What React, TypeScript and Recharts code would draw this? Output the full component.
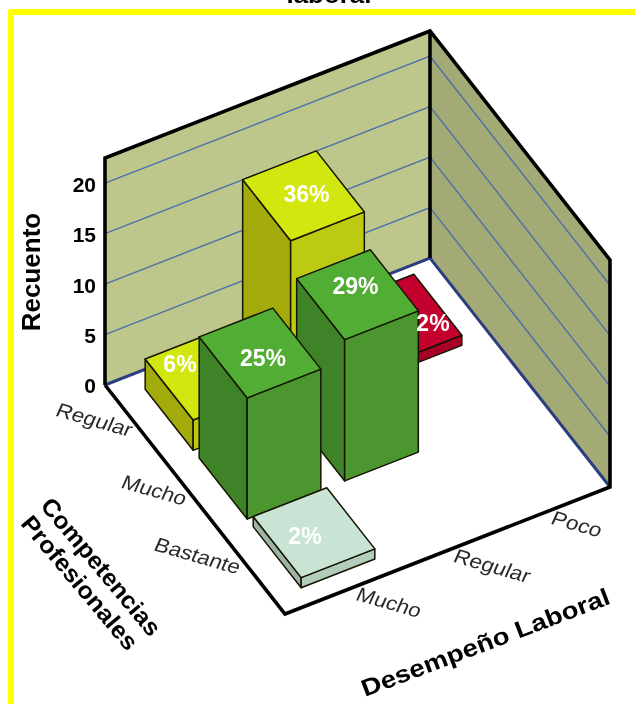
import React from 'react';
import { ScatterChart, Scatter, XAxis, YAxis, Label } from 'recharts';

// ---- data ----
const desempeno = ['Mucho', 'Regular', 'Poco'];
const competencias = ['Regular', 'Mucho', 'Bastante'];
const counts = [
  [3, 17, 1],
  [12, 14, 0],
  [1, 0, 0],
];
const percents = [
  ['6%', '36%', '2%'],
  ['25%', '29%', ''],
  ['2%', '', ''],
];
const valueTicks = [0, 5, 10, 15, 20];
const chartTitle = 'laboral';
const yTitle = 'Recuento';
const xTitle = 'Desempeño Laboral';
const zTitleLines = ['Competencias', 'Profesionales'];

// ---- projection / style ----
const W = 635;
const H = 704;
const ORIGIN_X = 105;
const ORIGIN_Y = 385;
const PX_PER_COUNT = 10.09;
const WALL_COUNT = 22.5;
const U = { x: 108.33, y: -42.33 };
const V = { x: 60, y: 76.33 };
const SLOT = 0.9;
const START = 0.26;
const START_V = 0.2;
const BAR_U = 0.68;
const BAR_V = 0.8;
const FONT = '"Liberation Sans", Arial, sans-serif';

const palette = [
  { top: '#d2e70f', left: '#a3ab0a', right: '#bccb11' },
  { top: '#52ad35', left: '#3f8328', right: '#4b962f' },
  { top: '#c9e4d4', left: '#9db5a8', right: '#b2cdbc' },
];
const redFace = { top: '#c4002e', left: '#8f0022', right: '#a80028' };

const project = (u: number, v: number, count = 0) => ({
  sx: ORIGIN_X + u * U.x + v * V.x,
  sy: count - (u * U.y + v * V.y) / PX_PER_COUNT,
});

type P = [number, number];
const poly = (pts: P[]) => pts.map((p) => p.join(',')).join(' ');
const off = (x: number, y: number, u: number, v: number, h = 0): P => [
  x + u * U.x + v * V.x,
  y + u * U.y + v * V.y - h * PX_PER_COUNT,
];

// bars back to front: Poco -> Mucho inside each row, row Regular first
const bars: any[] = [];
competencias.forEach((_, c) => {
  [2, 1, 0].forEach((d) => {
    const n = counts[c][d];
    if (!n) return;
    const u0 = START + d * SLOT;
    const v0 = START_V + c * SLOT;
    const isRed = c === 0 && d === 2;
    bars.push({ ...project(u0, v0), n, c, d, isRed });
  });
});

const labelNudge: Record<string, P> = {
  '0-0': [-26, -11],
  '0-1': [3, -2],
  '0-2': [32, 4],
  '1-0': [3, 5],
  '1-1': [-2, -9],
  '2-0': [-9, 3],
};

const barLabels: any[] = [];
competencias.forEach((_, c) => {
  desempeno.forEach((__, d) => {
    const n = counts[c][d];
    if (!n) return;
    const p = project(START + d * SLOT + BAR_U / 2, START_V + c * SLOT + BAR_V / 2, n);
    barLabels.push({ ...p, text: percents[c][d], key: `${c}-${d}` });
  });
});

const compLabels = competencias.map((text, c) => ({
  ...project(0, 0.47 + c * SLOT),
  text,
}));
const despLabels = desempeno.map((text, d) => ({
  ...project(0.67 + d * SLOT, 3),
  text,
}));

const wallAnchor = [project(0, 0)];

const Walls = (props: any) => {
  const { cx, cy } = props;
  const L = off(cx, cy, 0, 0);
  const B = off(cx, cy, 3, 0);
  const R = off(cx, cy, 3, 3);
  const F = off(cx, cy, 0, 3);
  const LT = off(cx, cy, 0, 0, WALL_COUNT);
  const BT = off(cx, cy, 3, 0, WALL_COUNT);
  const RT = off(cx, cy, 3, 3, WALL_COUNT);
  return (
    <g>
      <polygon points={poly([L, B, R, F])} fill="#ffffff" />
      <polygon points={poly([L, LT, BT, B])} fill="#bdc78c" />
      <polygon points={poly([B, BT, RT, R])} fill="#a3aa75" />
      {valueTicks.slice(1).map((t) => (
        <polyline
          key={t}
          points={poly([off(cx, cy, 0, 0, t), off(cx, cy, 3, 0, t), off(cx, cy, 3, 3, t)])}
          fill="none"
          stroke="#4f6fa8"
          strokeWidth={1.4}
        />
      ))}
      <polyline points={poly([L, B, R])} fill="none" stroke="#2b3f80" strokeWidth={3} />
      <polyline
        points={poly([L, LT, BT, RT, R, F, L])}
        fill="none"
        stroke="#000000"
        strokeWidth={3.6}
        strokeLinejoin="miter"
      />
      <line x1={B[0]} y1={B[1]} x2={BT[0]} y2={BT[1]} stroke="#000000" strokeWidth={3.6} />
    </g>
  );
};

const Bar3D = (props: any) => {
  const { cx, cy, payload } = props;
  const face = payload.isRed ? redFace : palette[payload.c];
  const h = payload.n;
  const a = off(cx, cy, 0, 0); // left
  const b = off(cx, cy, 0, BAR_V); // front
  const c = off(cx, cy, BAR_U, BAR_V); // right
  const at = off(cx, cy, 0, 0, h);
  const bt = off(cx, cy, 0, BAR_V, h);
  const ct = off(cx, cy, BAR_U, BAR_V, h);
  const dt = off(cx, cy, BAR_U, 0, h);
  const s = { stroke: '#141400', strokeWidth: 1.5, strokeLinejoin: 'round' as const };
  return (
    <g>
      <polygon points={poly([a, b, bt, at])} fill={face.left} {...s} />
      <polygon points={poly([b, c, ct, bt])} fill={face.right} {...s} />
      <polygon points={poly([at, bt, ct, dt])} fill={face.top} {...s} />
    </g>
  );
};

const BarLabel = (props: any) => {
  const { cx, cy, payload } = props;
  const [dx, dy] = labelNudge[payload.key] || [0, 0];
  return (
    <text
      x={cx + dx}
      y={cy + dy}
      dy="0.36em"
      textAnchor="middle"
      fill="#ffffff"
      fontFamily={FONT}
      fontWeight={700}
      fontSize={23}
    >
      {payload.text}
    </text>
  );
};

const textLen: Record<string, number> = { Regular: 78, Mucho: 66, Bastante: 88, Poco: 51 };

const FloorLabel = (anchor: 'start' | 'end', dx: number, dy: number) => (props: any) => {
  const { cx, cy, payload } = props;
  return (
    <text
      transform={`translate(${cx + dx},${cy + dy}) rotate(16) skewX(-8)`}
      textAnchor={anchor}
      fill="#2a2a2a"
      fontFamily={FONT}
      fontSize={20}
      textLength={textLen[payload.text]}
      lengthAdjust="spacingAndGlyphs"
    >
      {payload.text}
    </text>
  );
};

const titleAnchors = [{ sx: 329, sy: (ORIGIN_Y - 3) / PX_PER_COUNT }];
const TitleShape = (props: any) => (
  <text
    x={props.cx}
    y={props.cy}
    textAnchor="middle"
    fontFamily={FONT}
    fontWeight={700}
    fontSize={24}
    fill="#000000"
    textLength={85}
    lengthAdjust="spacingAndGlyphs"
  >
    {chartTitle}
  </text>
);

const xTitleAnchor = [{ sx: 365, sy: (ORIGIN_Y - 697) / PX_PER_COUNT }];
const XTitleShape = (props: any) => (
  <text
    transform={`translate(${props.cx},${props.cy}) rotate(-20.8)`}
    fontFamily={FONT}
    fontWeight={700}
    fontSize={24}
    fill="#000000"
    textLength={264}
    lengthAdjust="spacingAndGlyphs"
  >
    {xTitle}
  </text>
);

const zTitleAnchors = [
  { sx: 150, sy: (ORIGIN_Y - 638) / PX_PER_COUNT, text: zTitleLines[0], len: 172 },
  { sx: 127, sy: (ORIGIN_Y - 652) / PX_PER_COUNT, text: zTitleLines[1], len: 167 },
];
const ZTitleShape = (props: any) => (
  <text
    transform={`translate(${props.cx},${props.cy}) rotate(50)`}
    textAnchor="end"
    fontFamily={FONT}
    fontWeight={700}
    fontSize={24}
    fill="#000000"
    textLength={props.payload.len}
    lengthAdjust="spacingAndGlyphs"
  >
    {props.payload.text}
  </text>
);

const yDomain = [(ORIGIN_Y - H) / PX_PER_COUNT, ORIGIN_Y / PX_PER_COUNT];

export default function App() {
  return (
    <div style={{ position: 'fixed', left: 0, top: 0, width: W, height: H, overflow: 'hidden', background: '#fff' }}>
      <div
        style={{
          position: 'absolute',
          left: 8,
          top: 9,
          width: 800,
          height: 900,
          border: '6px solid #ffff00',
          borderRadius: 2,
          boxSizing: 'border-box',
        }}
      />
      <div style={{ position: 'absolute', left: 0, top: 0, filter: 'blur(0.4px)' }}>
        <ScatterChart width={W} height={H} margin={{ top: 0, right: 0, bottom: 0, left: 0 }}>
          <XAxis type="number" dataKey="sx" domain={[ORIGIN_X, W]} hide />
          <YAxis
            type="number"
            dataKey="sy"
            domain={yDomain}
            ticks={valueTicks}
            width={ORIGIN_X}
            axisLine={false}
            tickLine={false}
            tickSize={0}
            tickMargin={9}
            interval={0}
            tick={{ fill: '#000000', fontFamily: FONT, fontWeight: 700, fontSize: 21, dy: 1 }}
          >
            <Label
              value={yTitle}
              angle={-90}
              position="insideLeft"
              offset={31}
              dy={-80}
              style={{ fontFamily: FONT, fontWeight: 700, fontSize: 26, fill: '#000000', textAnchor: 'middle' }}
            />
          </YAxis>
          <Scatter data={wallAnchor} shape={Walls} isAnimationActive={false} />
          <Scatter data={bars} shape={Bar3D} isAnimationActive={false} />
          <Scatter data={barLabels} shape={BarLabel} isAnimationActive={false} />
          <Scatter data={compLabels} shape={FloorLabel('end', -4, 16)} isAnimationActive={false} />
          <Scatter data={despLabels} shape={FloorLabel('start', -3, 14)} isAnimationActive={false} />
          <Scatter data={titleAnchors} shape={TitleShape} isAnimationActive={false} />
          <Scatter data={xTitleAnchor} shape={XTitleShape} isAnimationActive={false} />
          <Scatter data={zTitleAnchors} shape={ZTitleShape} isAnimationActive={false} />
        </ScatterChart>
      </div>
    </div>
  );
}
